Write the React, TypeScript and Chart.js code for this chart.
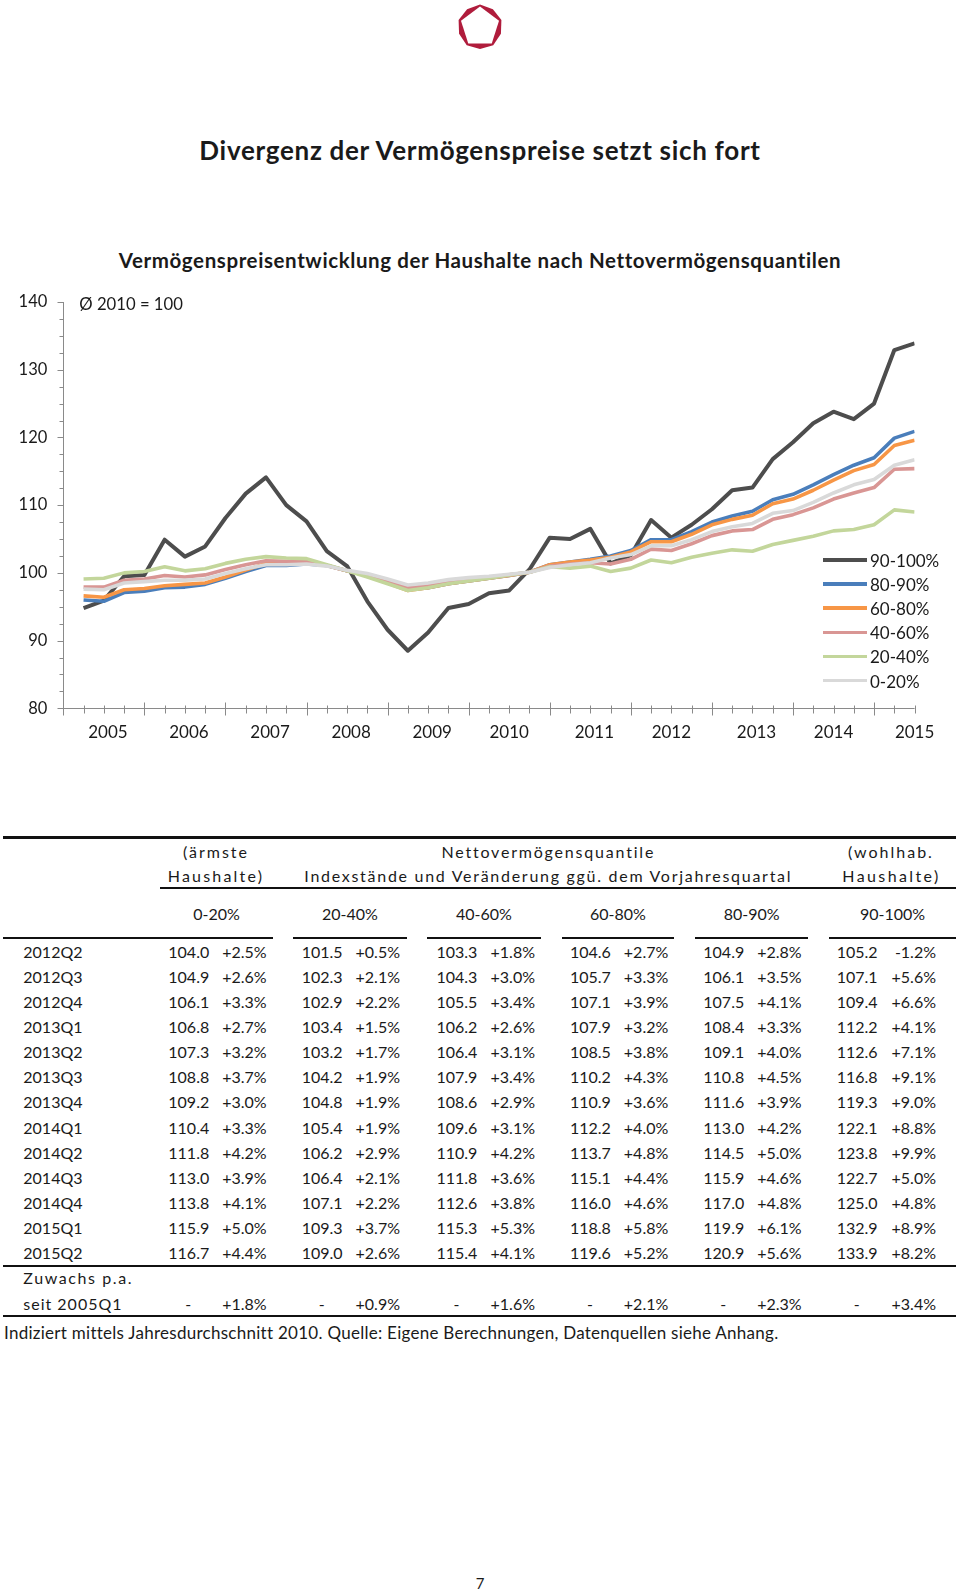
import React, { useEffect, useRef } from "react";
import { Chart, registerables } from "chart.js";

Chart.register(...registerables);

const FONT = "Lato, 'Open Sans', sans-serif";
const TXT = "#1a1a1a";

// ---------- chart data ----------
const quarters = [
  "2005Q1", "2005Q2", "2005Q3", "2005Q4", "2006Q1", "2006Q2", "2006Q3", "2006Q4",
  "2007Q1", "2007Q2", "2007Q3", "2007Q4", "2008Q1", "2008Q2", "2008Q3", "2008Q4",
  "2009Q1", "2009Q2", "2009Q3", "2009Q4", "2010Q1", "2010Q2", "2010Q3", "2010Q4",
  "2011Q1", "2011Q2", "2011Q3", "2011Q4", "2012Q1", "2012Q2", "2012Q3", "2012Q4",
  "2013Q1", "2013Q2", "2013Q3", "2013Q4", "2014Q1", "2014Q2", "2014Q3", "2014Q4",
  "2015Q1", "2015Q2",
];
const yearLabels = ["2005", "2006", "2007", "2008", "2009", "2010", "2011", "2012", "2013", "2014", "2015"];
const yMin = 80;
const yMax = 140;
const yStep = 10;
const yMinorStep = 2.5;

const seriesNames = ["90-100%", "80-90%", "60-80%", "40-60%", "20-40%", "0-20%"];

const s90_100 = [94.8, 95.9, 99.5, 99.7, 104.9, 102.4, 103.9, 108.1, 111.7, 114.1, 110.0, 107.6, 103.2, 101.0, 95.8, 91.6, 88.5, 91.2, 94.8, 95.4, 97.0, 97.4, 100.5, 105.2, 105.0, 106.5, 101.4, 102.6, 107.8, 105.2, 107.1, 109.4, 112.2, 112.6, 116.8, 119.3, 122.1, 123.8, 122.7, 125.0, 132.9, 133.9];
const s80_90 = [96.0, 95.8, 97.1, 97.3, 97.8, 97.9, 98.3, 99.2, 100.2, 101.1, 101.1, 101.3, 101.1, 100.3, 99.6, 98.6, 97.5, 97.8, 98.4, 98.8, 99.2, 99.6, 100.1, 101.2, 101.6, 102.0, 102.5, 103.3, 104.9, 104.9, 106.1, 107.5, 108.4, 109.1, 110.8, 111.6, 113.0, 114.5, 115.9, 117.0, 119.9, 120.9];
const s60_80 = [96.6, 96.4, 97.5, 97.7, 98.1, 98.3, 98.5, 99.4, 100.4, 101.4, 101.4, 101.6, 101.1, 100.3, 99.6, 98.5, 97.4, 97.8, 98.4, 98.8, 99.2, 99.6, 100.1, 101.2, 101.6, 101.9, 102.3, 103.1, 104.6, 104.6, 105.7, 107.1, 107.9, 108.5, 110.2, 110.9, 112.2, 113.7, 115.1, 116.0, 118.8, 119.6];
const s40_60 = [97.9, 97.9, 98.9, 99.1, 99.6, 99.4, 99.7, 100.5, 101.2, 101.8, 101.7, 101.7, 101.1, 100.3, 99.7, 98.8, 97.8, 98.1, 98.6, 99.0, 99.3, 99.7, 100.1, 101.0, 101.3, 101.5, 101.3, 102.0, 103.5, 103.3, 104.3, 105.5, 106.2, 106.4, 107.9, 108.6, 109.6, 110.9, 111.8, 112.6, 115.3, 115.4];
const s20_40 = [99.1, 99.2, 100.0, 100.2, 100.9, 100.3, 100.6, 101.4, 102.0, 102.4, 102.2, 102.1, 101.2, 100.3, 99.4, 98.4, 97.4, 97.8, 98.4, 98.8, 99.2, 99.7, 100.1, 100.9, 100.7, 101.0, 100.2, 100.7, 101.9, 101.5, 102.3, 102.9, 103.4, 103.2, 104.2, 104.8, 105.4, 106.2, 106.4, 107.1, 109.3, 109.0];
const s0_20 = [97.6, 97.5, 98.5, 98.7, 98.9, 98.9, 99.1, 99.9, 100.6, 101.2, 101.2, 101.3, 101.0, 100.4, 99.9, 99.1, 98.2, 98.5, 99.0, 99.3, 99.5, 99.8, 100.1, 100.8, 101.2, 101.5, 102.2, 102.7, 104.0, 104.0, 104.9, 106.1, 106.8, 107.3, 108.8, 109.2, 110.4, 111.8, 113.0, 113.8, 115.9, 116.7];

const seriesValues = [s90_100, s80_90, s60_80, s40_60, s20_40, s0_20];
const seriesColors = ["#4d4d4d", "#4a7ebb", "#f79646", "#d99694", "#c3d69b", "#d9d9d9"];
const seriesWidths = [4, 3.6, 3.6, 3.6, 3.6, 3.6];

// ---------- table data ----------
const tableQuarters = ["2012Q2", "2012Q3", "2012Q4", "2013Q1", "2013Q2", "2013Q3", "2013Q4", "2014Q1", "2014Q2", "2014Q3", "2014Q4", "2015Q1", "2015Q2"];
const tableColumns = ["0-20%", "20-40%", "40-60%", "60-80%", "80-90%", "90-100%"];
const p0_20 = [2.5, 2.6, 3.3, 2.7, 3.2, 3.7, 3.0, 3.3, 4.2, 3.9, 4.1, 5.0, 4.4];
const p20_40 = [0.5, 2.1, 2.2, 1.5, 1.7, 1.9, 1.9, 1.9, 2.9, 2.1, 2.2, 3.7, 2.6];
const p40_60 = [1.8, 3.0, 3.4, 2.6, 3.1, 3.4, 2.9, 3.1, 4.2, 3.6, 3.8, 5.3, 4.1];
const p60_80 = [2.7, 3.3, 3.9, 3.2, 3.8, 4.3, 3.6, 4.0, 4.8, 4.4, 4.6, 5.8, 5.2];
const p80_90 = [2.8, 3.5, 4.1, 3.3, 4.0, 4.5, 3.9, 4.2, 5.0, 4.6, 4.8, 6.1, 5.6];
const p90_100 = [-1.2, 5.6, 6.6, 4.1, 7.1, 9.1, 9.0, 8.8, 9.9, 5.0, 4.8, 8.9, 8.2];
const growthPa = [1.8, 0.9, 1.6, 2.1, 2.3, 3.4];

const tableValues = [s0_20, s20_40, s40_60, s60_80, s80_90, s90_100].map((s) => s.slice(-tableQuarters.length));
const tablePct = [p0_20, p20_40, p40_60, p60_80, p80_90, p90_100];

// ---------- layout constants ----------
const CANVAS_TOP = 276;
const CANVAS_H = 484;
// where the year labels sit on the quarter axis (as rendered in the original)
const yearLabelPos = [2.2, 6.2, 10.2, 14.2, 18.2, 22, 26.2, 30, 34.2, 38, 42];
const colStart = [168.3, 301.7, 436.5, 570, 703.3, 836.7];
const colEnd = [266.7, 400, 535, 668.3, 801.7, 936];
const headCenter = [216.5, 350, 484, 618, 751.7, 892.5];
const segs = [[3, 273], [293, 407], [427, 540.7], [561.7, 674.3], [695, 808.3], [829, 956]];
const rowY0 = 951.5;
const rowPitch = 25.15;

const fmtPct = (p: number) => (p >= 0 ? "+" : "") + p.toFixed(1) + "%";

const axisPlugin = {
  id: "excelAxes",
  beforeDatasetsDraw(chart: any) {
    const { ctx, scales } = chart;
    const xs = scales.x;
    const ys = scales.y;
    const r = (v: number) => Math.round(v) + 0.5;
    const x0 = r(xs.getPixelForValue(0));
    const x1 = xs.getPixelForValue(quarters.length);
    const yb = r(ys.getPixelForValue(yMin));
    const yt = ys.getPixelForValue(yMax);
    ctx.save();
    ctx.strokeStyle = "#8a8a8a";
    ctx.lineWidth = 1;
    ctx.beginPath();
    ctx.moveTo(x0, yt);
    ctx.lineTo(x0, yb);
    ctx.lineTo(x1, yb);
    for (let v = yMin; v <= yMax; v += yMinorStep) {
      const py = r(ys.getPixelForValue(v));
      const major = v % yStep === 0;
      ctx.moveTo(x0 - (major ? 6 : 4), py);
      ctx.lineTo(x0, py);
    }
    for (let q = 0; q <= quarters.length; q++) {
      const px = r(xs.getPixelForValue(q));
      const major = q % 4 === 0;
      ctx.moveTo(px, yb - (major ? 6 : 3));
      ctx.lineTo(px, yb + (major ? 7 : 5));
    }
    ctx.stroke();
    ctx.restore();
  },
};

type TP = {
  x: number;
  y: number;
  a?: "left" | "center" | "right";
  s?: number;
  w?: number;
  ls?: number;
  color?: string;
  children: React.ReactNode;
};
const T = ({ x, y, a = "left", s = 16, w = 400, ls = 0, color = TXT, children }: TP) => (
  <div
    style={{
      position: "absolute",
      left: x,
      top: y,
      transform: `translate(${a === "center" ? "-50%" : a === "right" ? "-100%" : "0"}, -50%)`,
      fontFamily: FONT,
      fontSize: s,
      fontWeight: w,
      letterSpacing: ls,
      whiteSpace: "nowrap",
      lineHeight: 1,
      color,
    }}
  >
    {children}
  </div>
);

const Rule = ({ x1, x2, y, h = 2 }: { x1: number; x2: number; y: number; h?: number }) => (
  <div style={{ position: "absolute", left: x1, top: y - h / 2, width: x2 - x1, height: h, background: "#111" }} />
);

function Logo() {
  const cx = 30;
  const cy = 30;
  const outer: string[] = [];
  for (let i = 0; i < 10; i++) {
    const a = -Math.PI / 2 + (i * Math.PI) / 5;
    const rr = i % 2 === 0 ? 22.5 : 22;
    outer.push(`${cx + rr * Math.cos(a)},${cy + rr * Math.sin(a)}`);
  }
  const inner: string[] = [];
  for (let i = 0; i < 5; i++) {
    const a = -Math.PI / 2 + (i * 2 * Math.PI) / 5;
    inner.push(`${cx + 20 * Math.cos(a)},${cy + 20.5 * Math.sin(a)}`);
  }
  return (
    <svg width={60} height={60} style={{ position: "absolute", left: 479.5 - 30, top: 27 - 30 }}>
      <polygon points={outer.join(" ")} fill="#b01c3c" />
      <polygon points={inner.join(" ")} fill="#ffffff" />
    </svg>
  );
}

export default function App() {
  const ref = useRef<HTMLCanvasElement>(null);

  useEffect(() => {
    if (!ref.current) return;
    const datasets = seriesValues.map((vals, k) => ({
      label: seriesNames[k],
      data: vals.map((v, i) => ({ x: i + 1, y: v })),
      borderColor: seriesColors[k],
      backgroundColor: seriesColors[k],
      borderWidth: seriesWidths[k],
      pointRadius: 0,
      tension: 0,
      borderJoinStyle: "round" as const,
      borderCapStyle: "butt" as const,
      order: seriesValues.length - k,
    }));
    const chart = new Chart(ref.current, {
      type: "line",
      data: { datasets },
      options: {
        responsive: false,
        maintainAspectRatio: false,
        animation: false,
        events: [],
        layout: { padding: { top: 26, right: 45.4, bottom: 0, left: 0 } },
        plugins: { legend: { display: false }, tooltip: { enabled: false }, title: { display: false } },
        scales: {
          x: {
            type: "linear",
            min: 0,
            max: quarters.length,
            grid: { display: false, drawTicks: false },
            border: { display: false },
            afterBuildTicks: (s: any) => {
              s.ticks = yearLabelPos.map((v) => ({ value: v }));
            },
            ticks: {
              autoSkip: false,
              maxRotation: 0,
              minRotation: 0,
              padding: 14,
              color: TXT,
              font: { family: FONT, size: 17 },
              callback: (_v: any, i: number) => yearLabels[i],
            },
            afterFit: (s: any) => {
              s.height = 51.7;
            },
          },
          y: {
            min: yMin,
            max: yMax,
            grid: { display: false, drawTicks: false },
            border: { display: false },
            ticks: {
              stepSize: yStep,
              padding: 16,
              color: TXT,
              font: { family: FONT, size: 16.5 },
            },
            afterFit: (s: any) => {
              s.width = 63.3;
            },
          },
        },
      },
      plugins: [axisPlugin],
    } as any);
    return () => chart.destroy();
  }, []);

  const legendY0 = 560;
  const legendPitch = 24.1;

  return (
    <div style={{ position: "absolute", left: 0, top: 0, width: 960, height: 1590, background: "#fff", overflow: "hidden" }}>
      <Logo />
      <T x={480} y={150} a="center" s={26} w={700} ls={0.7}>Divergenz der Vermögenspreise setzt sich fort</T>
      <T x={480} y={260} a="center" s={20.5} w={700} ls={0.6}>Vermögenspreisentwicklung der Haushalte nach Nettovermögensquantilen</T>

      <canvas
        ref={ref}
        width={960}
        height={CANVAS_H}
        style={{ position: "absolute", left: 0, top: CANVAS_TOP, width: 960, height: CANVAS_H }}
      />
      <T x={79.3} y={304} s={16.7}>Ø 2010 = 100</T>

      {seriesNames.map((n, k) => (
        <React.Fragment key={n}>
          <div
            style={{
              position: "absolute",
              left: 823,
              top: legendY0 + k * legendPitch - seriesWidths[k] / 2,
              width: 44,
              height: seriesWidths[k],
              background: seriesColors[k],
            }}
          />
          <T x={870} y={legendY0 + k * legendPitch} s={17}>{n}</T>
        </React.Fragment>
      ))}

      {/* table */}
      <Rule x1={3} x2={956} y={837.3} h={2.5} />
      <T x={216} y={852} a="center" ls={2}>(ärmste</T>
      <T x={216} y={876} a="center" ls={2.2}>Haushalte)</T>
      <T x={548.3} y={852} a="center" ls={1.8}>Nettovermögensquantile</T>
      <T x={548.3} y={876} a="center" ls={1.72}>Indexstände und Veränderung ggü. dem Vorjahresquartal</T>
      <T x={891} y={852} a="center" ls={2}>(wohlhab.</T>
      <T x={891.5} y={876} a="center" ls={2.4}>Haushalte)</T>
      <Rule x1={160} x2={956} y={888.3} h={2} />
      {tableColumns.map((c, j) => (
        <T key={c} x={headCenter[j]} y={914} a="center">{c}</T>
      ))}
      {segs.map(([a, b], j) => (
        <Rule key={j} x1={a} x2={b} y={937.7} h={2} />
      ))}
      {tableQuarters.map((q, i) => (
        <React.Fragment key={q}>
          <T x={23.3} y={rowY0 + i * rowPitch}>{q}</T>
          {tableColumns.map((c, j) => (
            <React.Fragment key={c}>
              <T x={colStart[j]} y={rowY0 + i * rowPitch}>{tableValues[j][i].toFixed(1)}</T>
              <T x={colEnd[j]} y={rowY0 + i * rowPitch} a="right">{fmtPct(tablePct[j][i])}</T>
            </React.Fragment>
          ))}
        </React.Fragment>
      ))}
      <Rule x1={3} x2={956} y={1266} h={2} />
      <T x={23.3} y={1278} ls={1.6}>Zuwachs p.a.</T>
      <T x={23.3} y={1303.6} ls={1}>seit 2005Q1</T>
      {growthPa.map((g, j) => (
        <React.Fragment key={j}>
          <T x={colStart[j] + 20} y={1303.6} a="center">-</T>
          <T x={colEnd[j]} y={1303.6} a="right">{fmtPct(g)}</T>
        </React.Fragment>
      ))}
      <Rule x1={3} x2={956} y={1315.8} h={2.5} />
      <T x={4} y={1332} s={17} ls={0.27}>Indiziert mittels Jahresdurchschnitt 2010. Quelle: Eigene Berechnungen, Datenquellen siehe Anhang.</T>

      <T x={480} y={1583} a="center" s={15}>7</T>
    </div>
  );
}
